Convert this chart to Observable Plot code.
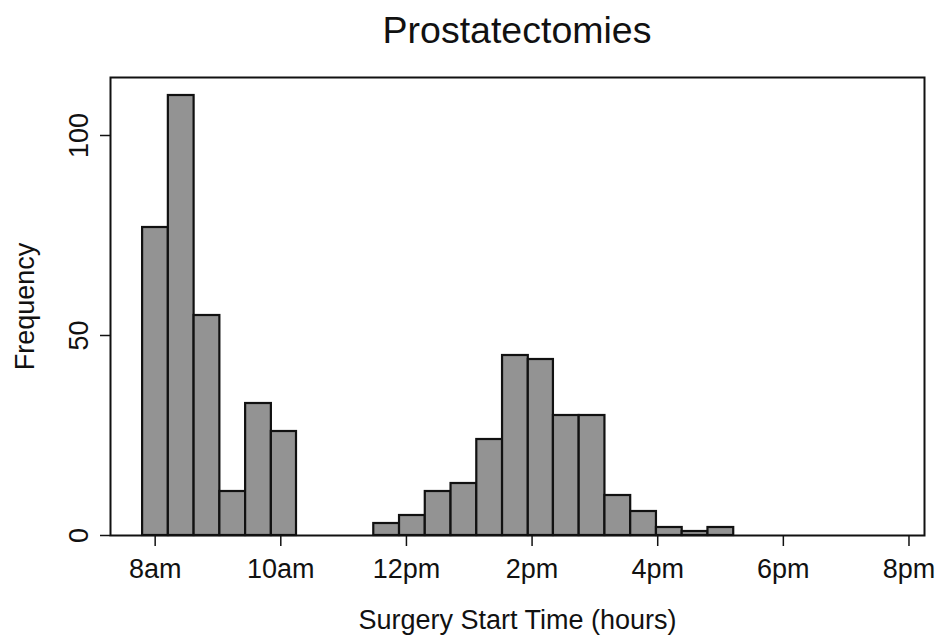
<!DOCTYPE html>
<html>
<head>
<meta charset="utf-8">
<script src="https://cdn.jsdelivr.net/npm/d3@7"></script>
<script src="https://cdn.jsdelivr.net/npm/@observablehq/plot@0.6"></script>
<style>
  html, body { margin: 0; padding: 0; background: #ffffff; }
  #title {
    width: 938px; height: 58px; line-height: 60px; box-sizing: border-box;
    padding-left: 96px; text-align: center; overflow: hidden;
    font-family: "Liberation Sans", Arial, sans-serif; font-size: 37.5px; color: #111;
  }
</style>
</head>
<body>
<div id="title">Prostatectomies</div>
<div id="chart"></div>
<script>
// Histogram bin edges (hours, 24h clock) and counts
const binEdges = [7.80, 8.21, 8.62, 9.03, 9.44, 9.85, 10.25, 10.66, 11.07, 11.48, 11.89, 12.30,
                  12.71, 13.12, 13.53, 13.94, 14.34, 14.75, 15.16, 15.57, 15.98, 16.39, 16.80, 17.21];
const counts = [77, 110, 55, 11, 33, 26, 0, 0, 0, 3, 5, 11, 13, 24, 45, 44, 30, 30, 10, 6, 2, 1, 2];
const xTicks = [8, 10, 12, 14, 16, 18, 20];
const xTickLabels = ["8am", "10am", "12pm", "2pm", "4pm", "6pm", "8pm"];
const yTicks = [0, 50, 100];
const xTitle = "Surgery Start Time (hours)";
const yTitle = "Frequency";

const bins = counts.map((c, i) => ({x1: binEdges[i], x2: binEdges[i + 1], count: c}))
                   .filter(d => d.count > 0);

const font = "'Liberation Sans', Arial, sans-serif";
const chart = Plot.plot({
  width: 938,
  height: 580,
  marginTop: 19,
  marginBottom: 103,
  marginLeft: 110,
  marginRight: 14,
  style: {fontFamily: font, background: "white", color: "#111"},
  x: {domain: [7.289, 20.247]},
  y: {domain: [0, 114.5]},
  marks: [
    Plot.rectY(bins, {x1: "x1", x2: "x2", y: "count", fill: "#939393", stroke: "#111", strokeWidth: 2.2}),
    Plot.frame({stroke: "#111", strokeWidth: 2}),
    Plot.axisX({ticks: xTicks, tickFormat: d => xTickLabels[xTicks.indexOf(d)], tickSize: 11, tickPadding: 12,
                fontSize: 27, strokeWidth: 1.5, label: null}),
    Plot.axisY({ticks: yTicks, tickSize: 10, tickFormat: () => "", strokeWidth: 1.5, label: null}),
    Plot.text(yTicks, {y: d => d, text: d => String(d), frameAnchor: "left", dx: -23, rotate: -90,
                       textAnchor: "middle", lineAnchor: "bottom", fontSize: 27}),
    Plot.text([yTitle], {text: d => d, frameAnchor: "left", dx: -77, rotate: -90,
                         textAnchor: "middle", lineAnchor: "bottom", fontSize: 27}),
    Plot.text([xTitle], {text: d => d, frameAnchor: "bottom", dy: 93, lineAnchor: "bottom", fontSize: 27})
  ]
});
document.getElementById("chart").appendChild(chart);
</script>
</body>
</html>
